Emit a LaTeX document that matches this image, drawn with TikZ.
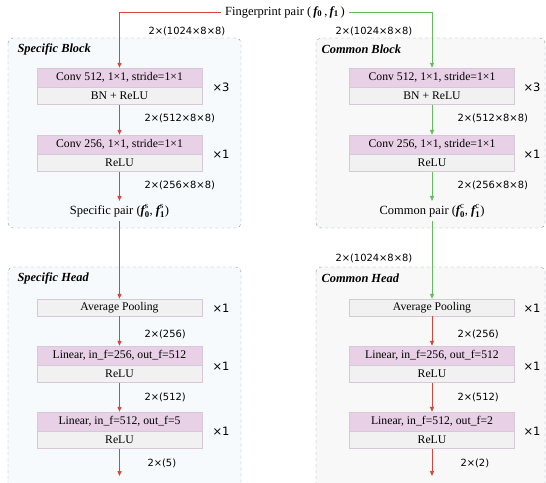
\documentclass[tikz,border=0pt]{standalone}
\usepackage{amsmath}
\usepackage{fontspec}
\setmainfont{Liberation Serif}
\newfontfamily\dimfont{DejaVu Sans}
\usetikzlibrary{arrows.meta, positioning}

\definecolor{arrred}{HTML}{D9443E}
\definecolor{arrgreen}{HTML}{62BD5C}
\definecolor{pinkfill}{HTML}{E8D0E6}
\definecolor{grayfill}{HTML}{F1F1F1}
\definecolor{boxline}{HTML}{D6C8D6}
\definecolor{blkline}{HTML}{8C9DB2}
\definecolor{specfill}{HTML}{F7FAFD}
\definecolor{comfill}{HTML}{F7F8F7}

\newcommand{\fvec}[2]{$\text{\bfseries\itshape f}^{\text{#2}}_{\text{\bfseries #1}}$}

\tikzset{
  pinkbox/.style={draw=boxline, fill=pinkfill, minimum width=165pt, minimum height=19pt, inner sep=0pt, font=\fontsize{11.7}{13}\selectfont},
  graybox/.style={pinkbox, fill=grayfill, minimum height=17pt},
  blk/.style={draw=blkline, dashed, rounded corners=5pt},
  blktitle/.style={anchor=west, font=\fontsize{12.4}{14}\selectfont\bfseries\itshape},
  plain/.style={font=\fontsize{12.5}{14}\selectfont},
  dimlab/.style={anchor=west, font=\dimfont\fontsize{9.9}{11}\selectfont},
  rep/.style={font=\dimfont\fontsize{11.5}{13}\selectfont},
  redarr/.style={arrred, thick, -{Triangle[length=5pt,width=4pt]}},
  greenarr/.style={arrgreen, thick, -{Triangle[length=5pt,width=4pt]}}
}

\begin{document}
\begin{tikzpicture}[x=1pt, y=-1pt]
    \useasboundingbox (0,0) rectangle (546,482);
    \clip (0,0) rectangle (546,482);

    % blocks
    \draw[blk, fill=specfill] (8,38) rectangle (241,228);
    \draw[blk, fill=comfill] (316,38) rectangle (545,228);
    \draw[blk, fill=specfill] (8,267) rectangle (241,500);
    \draw[blk, fill=comfill] (316,267) rectangle (545,500);
    \node[blktitle] at (14,49) {Specific Block};
    \node[blktitle] at (318,49) {Common Block};
    \node[blktitle] at (14,278) {Specific Head};
    \node[blktitle] at (318,278) {Common Head};

    % input
    \node[plain, inner sep=4pt] (fp) at (285,12) {Fingerprint pair (\,{\bfseries\itshape f}\textsubscript{\bfseries 0}\,,\,{\bfseries\itshape f}\textsubscript{\bfseries 1}\,)};

    % Specific Block
    \node[pinkbox] (sconvA) at (119.5,77.5) {Conv 512, 1\texttimes1, stride=1\texttimes1};
    \node[graybox, below=0pt of sconvA] (sbnA) {BN + ReLU};
    \node[rep] at (221,87) {\texttimes3};
    \node[pinkbox] (sconvB) at (119.5,144.5) {Conv 256, 1\texttimes1, stride=1\texttimes1};
    \node[graybox, below=0pt of sconvB] (sreluB) {ReLU};
    \node[rep] at (221,154) {\texttimes1};
    \node[plain] (spair) at (119.5,211) {Specific pair (\fvec{0}{s}, \fvec{1}{s})};
    \node[dimlab] at (145,31) {2\texttimes(1024\texttimes8\texttimes8)};
    \node[dimlab] at (141,118) {2\texttimes(512\texttimes8\texttimes8)};
    \node[dimlab] at (141,185) {2\texttimes(256\texttimes8\texttimes8)};

    % Common Block
    \node[pinkbox] (cconvA) at (432,77.5) {Conv 512, 1\texttimes1, stride=1\texttimes1};
    \node[graybox, below=0pt of cconvA] (cbnA) {BN + ReLU};
    \node[rep] at (532,87) {\texttimes3};
    \node[pinkbox] (cconvB) at (432,144.5) {Conv 256, 1\texttimes1, stride=1\texttimes1};
    \node[graybox, below=0pt of cconvB] (creluB) {ReLU};
    \node[rep] at (532,154) {\texttimes1};
    \node[plain] (cpair) at (432,211) {Common pair (\fvec{0}{c}, \fvec{1}{c})};
    \node[dimlab] at (332,31) {2\texttimes(1024\texttimes8\texttimes8)};
    \node[dimlab] at (454,118) {2\texttimes(512\texttimes8\texttimes8)};
    \node[dimlab] at (454,185) {2\texttimes(256\texttimes8\texttimes8)};

    % Specific Head
    \node[graybox] (savg) at (119.5,307.5) {Average Pooling};
    \node[rep] at (221,308) {\texttimes1};
    \node[pinkbox] (slinA) at (119.5,355.5) {Linear, in\_f=256, out\_f=512};
    \node[graybox, below=0pt of slinA] (sreluC) {ReLU};
    \node[rep] at (221,366) {\texttimes1};
    \node[pinkbox] (slinB) at (119.5,421.5) {Linear, in\_f=512, out\_f=5};
    \node[graybox, below=0pt of slinB] (sreluD) {ReLU};
    \node[rep] at (221,431) {\texttimes1};
    \coordinate (sout) at (119.5,476);
    \node[dimlab] at (141,334) {2\texttimes(256)};
    \node[dimlab] at (141,397) {2\texttimes(512)};
    \node[dimlab] at (144,463) {2\texttimes(5)};

    % Common Head
    \node[graybox] (cavg) at (432,307.5) {Average Pooling};
    \node[rep] at (532,308) {\texttimes1};
    \node[pinkbox] (clinA) at (432,355.5) {Linear, in\_f=256, out\_f=512};
    \node[graybox, below=0pt of clinA] (creluC) {ReLU};
    \node[rep] at (532,366) {\texttimes1};
    \node[pinkbox] (clinB) at (432,421.5) {Linear, in\_f=512, out\_f=2};
    \node[graybox, below=0pt of clinB] (creluD) {ReLU};
    \node[rep] at (532,431) {\texttimes1};
    \coordinate (cout) at (432,476);
    \node[dimlab] at (332,258) {2\texttimes(1024\texttimes8\texttimes8)};
    \node[dimlab] at (454,334) {2\texttimes(256)};
    \node[dimlab] at (454,397) {2\texttimes(512)};
    \node[dimlab] at (457,463) {2\texttimes(2)};

    % arrows
    \draw[redarr] (fp.west) -| (sconvA.north);
    \draw[redarr] (sbnA.south) -- (sconvB.north);
    \draw[redarr] (sreluB.south) -- (spair.north);
    \draw[redarr] (spair.south) -- (savg.north);
    \draw[redarr] (savg.south) -- (slinA.north);
    \draw[redarr] (sreluC.south) -- (slinB.north);
    \draw[redarr] (sreluD.south) -- (sout);

    \draw[greenarr] (fp.east) -| (cconvA.north);
    \draw[greenarr] (cbnA.south) -- (cconvB.north);
    \draw[greenarr] (creluB.south) -- (cpair.north);
    \draw[greenarr] (cpair.south) -- (cavg.north);
    \draw[redarr] (cavg.south) -- (clinA.north);
    \draw[redarr] (creluC.south) -- (clinB.north);
    \draw[redarr] (creluD.south) -- (cout);
\end{tikzpicture}
\end{document}
